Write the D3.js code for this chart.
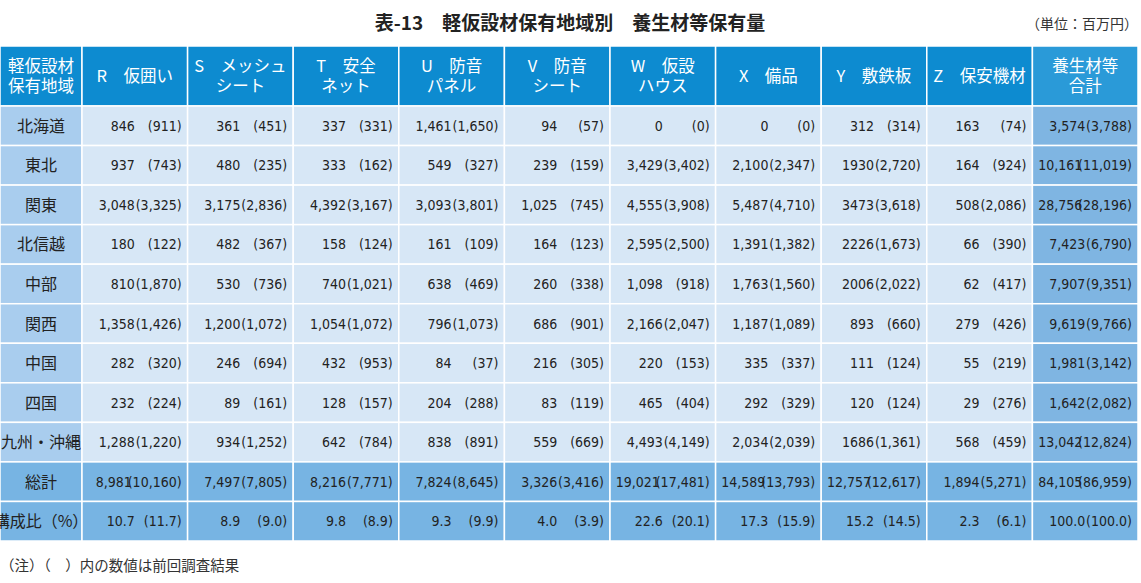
<!DOCTYPE html>
<html><head><meta charset="utf-8">
<script src="https://cdn.jsdelivr.net/npm/d3@7"></script>
<style>body{margin:0;background:#fff;font-family:"Noto Sans CJK JP",sans-serif;}</style>
</head><body><div id="chart"></div>
<script>
const headers = [['軽仮設材','保有地域'],['R　仮囲い'],['S　メッシュ','シート'],['T　安全','ネット'],['U　防音','パネル'],['V　防音','シート'],['W　仮設','ハウス'],['X　備品'],['Y　敷鉄板'],['Z　保安機材'],['養生材等','合計']];
const regions = ['北海道','東北','関東','北信越','中部','関西','中国','四国','九州・沖縄','総計','構成比（%）'];
const current = [
  ['846','361','337','1,461','94','0','0','312','163','3,574'],
  ['937','480','333','549','239','3,429','2,100','1930','164','10,161'],
  ['3,048','3,175','4,392','3,093','1,025','4,555','5,487','3473','508','28,756'],
  ['180','482','158','161','164','2,595','1,391','2226','66','7,423'],
  ['810','530','740','638','260','1,098','1,763','2006','62','7,907'],
  ['1,358','1,200','1,054','796','686','2,166','1,187','893','279','9,619'],
  ['282','246','432','84','216','220','335','111','55','1,981'],
  ['232','89','128','204','83','465','292','120','29','1,642'],
  ['1,288','934','642','838','559','4,493','2,034','1686','568','13,042'],
  ['8,981','7,497','8,216','7,824','3,326','19,021','14,589','12,757','1,894','84,105'],
  ['10.7','8.9','9.8','9.3','4.0','22.6','17.3','15.2','2.3','100.0']];
const previous = [
  ['911','451','331','1,650','57','0','0','314','74','3,788'],
  ['743','235','162','327','159','3,402','2,347','2,720','924','11,019'],
  ['3,325','2,836','3,167','3,801','745','3,908','4,710','3,618','2,086','28,196'],
  ['122','367','124','109','123','2,500','1,382','1,673','390','6,790'],
  ['1,870','736','1,021','469','338','918','1,560','2,022','417','9,351'],
  ['1,426','1,072','1,072','1,073','901','2,047','1,089','660','426','9,766'],
  ['320','694','953','37','305','153','337','124','219','3,142'],
  ['224','161','157','288','119','404','329','124','276','2,082'],
  ['1,220','1,252','784','891','669','4,149','2,039','1,361','459','12,824'],
  ['10,160','7,805','7,771','8,645','3,416','17,481','13,793','12,617','5,271','86,959'],
  ['11.7','9.0','8.9','9.9','3.9','20.1','15.9','14.5','6.1','100.0']];

const W = 1141, H = 583;
const svg = d3.select('#chart').append('svg').attr('width', W).attr('height', H);

const x = d3.scaleLinear().domain([0, 10]).range([82, 1138]);
const topY = 46, headH = 60;
const y = d3.scaleBand().domain(d3.range(regions.length)).range([topY + headH, 541]);

svg.append('text').attr('x', 570).attr('y', 30).attr('text-anchor', 'middle')
  .attr('font-size', 19).attr('font-weight', 'bold').attr('fill', '#222').text('表-13　軽仮設材保有地域別　養生材等保有量');
svg.append('text').attr('x', 1138).attr('y', 29).attr('text-anchor', 'end')
  .attr('font-size', 14).attr('fill', '#333').text('（単位：百万円）');

const colX = i => i === 0 ? 0 : x(i - 1);
const colW = i => i === 0 ? 82 : x(i) - x(i - 1);

// header
headers.forEach((h, i) => {
  svg.append('rect').attr('x', colX(i)).attr('y', topY).attr('width', colW(i)).attr('height', headH)
    .attr('fill', i === 10 ? '#2a9ad8' : '#0d8bd0').attr('stroke', '#fff').attr('stroke-width', 1.5);
  const t = svg.append('text').attr('text-anchor', 'middle').attr('fill', '#fff').attr('font-size', 16.5);
  const y0 = h.length === 1 ? topY + headH / 2 + 6 : topY + 26;
  h.forEach((s, k) => t.append('tspan').attr('x', colX(i) + colW(i) / 2).attr('y', y0 + k * 20).text(s));
});

regions.forEach((r, ri) => {
  const summary = ri >= 9;
  const yy = y(ri), hh = y.bandwidth();
  svg.append('rect').attr('x', 0).attr('y', yy).attr('width', 82).attr('height', hh)
    .attr('fill', summary ? '#77b4e3' : '#a9cdee').attr('stroke', '#fff').attr('stroke-width', 1.5);
  svg.append('text').attr('x', 41).attr('y', yy + hh / 2 + 6).attr('text-anchor', 'middle')
    .attr('font-size', 16).attr('fill', '#222').text(r);
  current[ri].forEach((v, ci) => {
    const cx = x(ci), cw = x(ci + 1) - x(ci);
    svg.append('rect').attr('x', cx).attr('y', yy).attr('width', cw).attr('height', hh)
      .attr('fill', summary ? '#77b4e3' : (ci === 9 ? '#7fb5e2' : '#d7e7f6'))
      .attr('stroke', '#fff').attr('stroke-width', 1.5);
    const g = svg.append('g').attr('font-size', 14).attr('fill', '#222')
      .attr('font-family', '"Liberation Sans Narrow","DejaVu Sans Condensed",sans-serif')
      .attr('transform', 'translate(0,' + (yy + hh / 2 + 5) + ')');
    g.append('text').attr('x', cx + cw * 0.5 + (previous[ri][ci].length > 5 ? -3 : 0)).attr('text-anchor', 'end').text(v);
    g.append('text').attr('x', cx + cw - 6).attr('text-anchor', 'end').text('(' + previous[ri][ci] + ')');
  });
});

svg.append('text').attr('x', 0).attr('y', 571).attr('font-size', 14.5).attr('fill', '#333')
  .text('（注）（　）内の数値は前回調査結果');
</script></body></html>
